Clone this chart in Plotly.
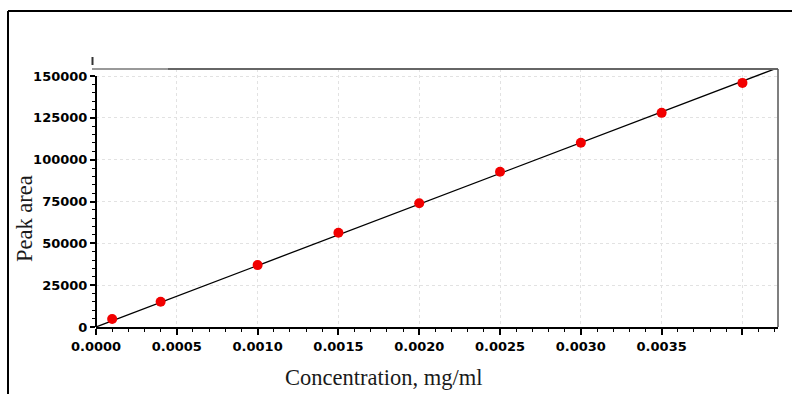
import numpy as np
import plotly.graph_objects as go

# ---- data ----
concentration = [0.0001, 0.0004, 0.0010, 0.0015, 0.0020, 0.0025, 0.0030, 0.0035, 0.0040]
peak_area = [4800, 15100, 37000, 56300, 74000, 92800, 110100, 128000, 145900]
x_tickvals = [0.0, 0.0005, 0.0010, 0.0015, 0.0020, 0.0025, 0.0030, 0.0035, 0.0040]
x_ticktext = ["0.0000", "0.0005", "0.0010", "0.0015", "0.0020", "0.0025", "0.0030", "0.0035", ""]
y_tickvals = [0, 25000, 50000, 75000, 100000, 125000, 150000]
y_ticktext = ["0", "25000", "50000", "75000", "100000", "125000", "150000"]

X_MAX = 0.00422
Y_MAX = 154200

# calibration line (least squares through origin)
xa = np.array(concentration)
ya = np.array(peak_area)
k = float((xa * ya).sum() / (xa * xa).sum())
line_x = [0.0, X_MAX]
line_y = [0.0, k * X_MAX]

# ---- layout geometry ----
WIDTH, HEIGHT = 792, 394
L, R, T, B = 96, 778, 69, 327
PW, PH = R - L, B - T


def px(x):
    return (x - L) / PW


def py(y):
    return (B - y) / PH


fig = go.Figure()
fig.add_trace(go.Scatter(x=line_x, y=line_y, mode="lines",
                         line=dict(color="black", width=1.3),
                         hoverinfo="skip", showlegend=False, cliponaxis=True))
fig.add_trace(go.Scatter(x=concentration, y=peak_area, mode="markers",
                         marker=dict(color="#f20000", size=10),
                         showlegend=False, cliponaxis=False))

tick_font = dict(family="DejaVu Sans", size=13, color="black", weight="bold")

fig.update_layout(
    width=WIDTH, height=HEIGHT,
    margin=dict(l=L, r=WIDTH - R, t=T, b=HEIGHT - B),
    paper_bgcolor="white", plot_bgcolor="white",
    showlegend=False,
    xaxis=dict(range=[0, X_MAX], tickmode="array", tickvals=x_tickvals, ticktext=x_ticktext,
               ticks="outside", ticklen=6, tickwidth=1.5, tickcolor="black",
               minor=dict(dtick=0.0001, tick0=0, ticks="outside", ticklen=3, tickwidth=1,
                          tickcolor="black", showgrid=False),
               showgrid=True, gridcolor="#e2e2e2", griddash="dot", gridwidth=1,
               showline=True, linecolor="black", linewidth=2, zeroline=False,
               tickfont=tick_font),
    yaxis=dict(range=[0, Y_MAX], tickmode="array", tickvals=y_tickvals, ticktext=y_ticktext,
               ticks="outside", ticklen=5, tickwidth=1.5, tickcolor="black",
               minor=dict(dtick=5000, tick0=0, ticks="outside", ticklen=3, tickwidth=1,
                          tickcolor="black", showgrid=False),
               showgrid=True, gridcolor="#e2e2e2", griddash="dot", gridwidth=1,
               showline=False, zeroline=False,
               tickfont=tick_font),
)

shapes = []
# left spine (up to top tick)
shapes.append(dict(type="line", xref="paper", yref="y", x0=0, x1=0, y0=0, y1=150000,
                   line=dict(color="black", width=2)))
# top and right frame
shapes.append(dict(type="line", xref="paper", yref="paper", x0=px(168), x1=1, y0=1, y1=1,
                   line=dict(color="#666666", width=2)))
shapes.append(dict(type="line", xref="paper", yref="paper", x0=px(92), x1=px(168), y0=1, y1=1,
                   line=dict(color="#999999", width=2)))
shapes.append(dict(type="line", xref="paper", yref="paper", x0=1, x1=1, y0=0, y1=1,
                   line=dict(color="#555555", width=1.5)))
shapes.append(dict(type="line", xref="paper", yref="paper", x0=px(92.5), x1=px(92.5),
                   y0=py(57), y1=py(65), line=dict(color="#333333", width=2)))
# outer figure box (top + left)
shapes.append(dict(type="line", xref="paper", yref="paper", x0=px(8), x1=px(795), y0=py(11), y1=py(11),
                   line=dict(color="black", width=2)))
shapes.append(dict(type="line", xref="paper", yref="paper", x0=px(8), x1=px(8), y0=py(11), y1=py(400),
                   line=dict(color="black", width=2)))
fig.update_layout(shapes=shapes)

title_font = dict(family="Liberation Serif", size=22.5, color="#1a1a1a")
fig.add_annotation(text="Concentration, mg/ml", xref="paper", yref="paper",
                   x=px(383), y=py(377), showarrow=False, font=title_font,
                   xanchor="center", yanchor="middle")
fig.add_annotation(text="Peak area", xref="paper", yref="paper",
                   x=px(25), y=py(219), showarrow=False, font=title_font, textangle=-90,
                   xanchor="center", yanchor="middle")

fig.write_html("out.html", config={"displayModeBar": False},
               post_script="document.body.style.margin='0';document.body.style.overflow='hidden';")
